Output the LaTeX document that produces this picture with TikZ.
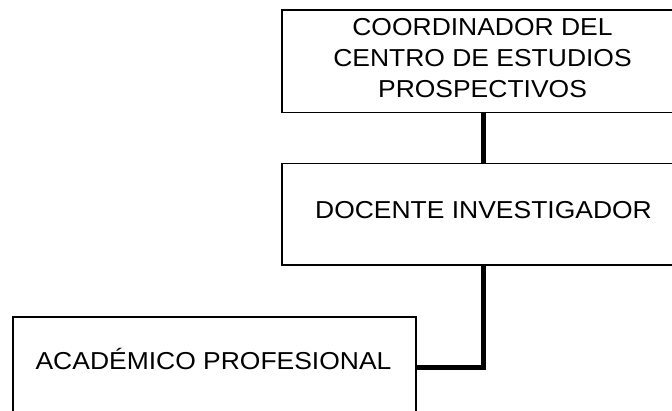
\documentclass[tikz,border=0pt]{standalone}
\usepackage{fontspec}
\setmainfont{Liberation Sans}[FakeStretch=1.08]
\begin{document}
\begin{tikzpicture}[x=1pt,y=-1pt,
  box/.style={draw=black,line width=1.1pt,minimum width=403pt,inner sep=0pt,outer sep=0pt},
  lbl/.style={inner sep=0pt,font={\fontsize{24.5}{31}\selectfont},align=center},
  link/.style={line width=5pt}]
\useasboundingbox (0,0) rectangle (672,410);
\begin{scope}
\clip (0,0) rectangle (672,410);
\fill[white] (0,0) rectangle (672,410);
\node[box,minimum height=102.5pt] (coord) at (483.5,61.25) {};
\node[box,minimum height=101.5pt] (docente) at (483.5,214.25) {};
\node[box,minimum height=100pt] (academico) at (214.5,367) {};
\node[lbl] (tcoord) at (482.5,57.9) {COORDINADOR DEL\\CENTRO DE ESTUDIOS\\PROSPECTIVOS};
\node[lbl,anchor=base] (tdocente) at (483.5,218) {DOCENTE INVESTIGADOR};
\node[lbl,anchor=base] (tacademico) at (213.5,369) {ACADÉMICO PROFESIONAL};
\draw[link] (coord.south) -- (docente.north);
\draw[link] (docente.south) |- (academico.east);
\end{scope}
\end{tikzpicture}
\end{document}
